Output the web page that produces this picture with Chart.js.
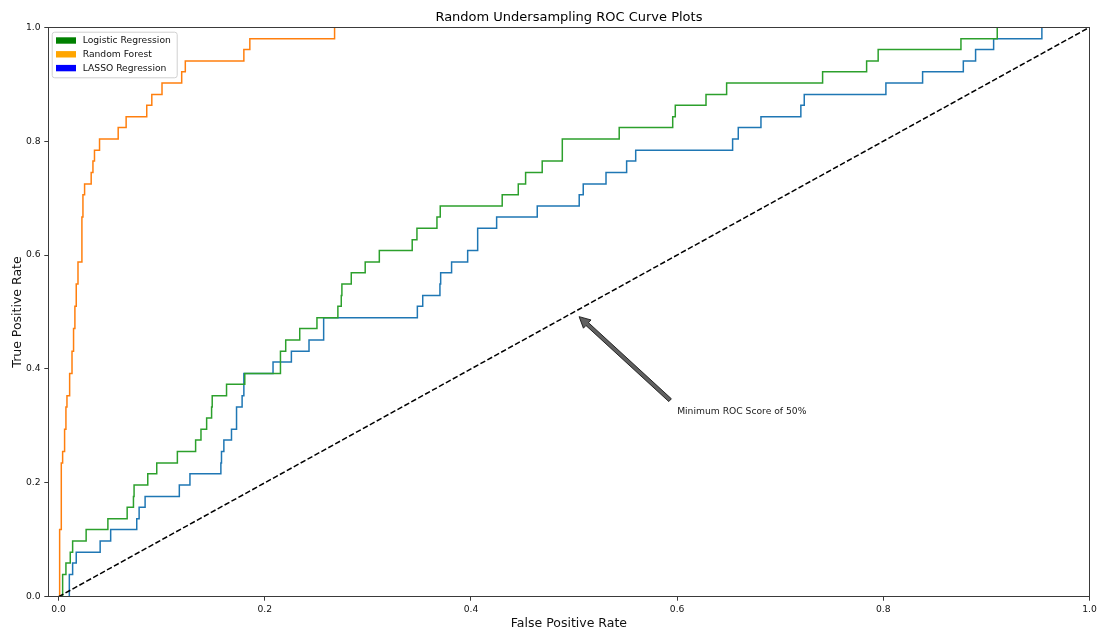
<!DOCTYPE html>
<html>
<head>
<meta charset="utf-8">
<title>Random Undersampling ROC Curve Plots</title>
<script src="https://cdn.jsdelivr.net/npm/chart.js@4.4.0/dist/chart.umd.min.js"></script>
<style>
  html, body { margin: 0; padding: 0; background: #ffffff; }
  #wrap { width: 1097px; height: 630px; position: relative; }
  canvas { display: block; }
</style>
</head>
<body>
<div id="wrap"><canvas id="roc" width="1097" height="630"></canvas></div>
<script>
// ---- text ----
const chartTitle = 'Random Undersampling ROC Curve Plots';
const xAxisLabel = 'False Positive Rate';
const yAxisLabel = 'True Positive Rate';
const seriesNames = ['Logistic Regression', 'Random Forest', 'LASSO Regression'];
const noteText = 'Minimum ROC Score of 50%';

// ---- colours ----
const lineColors = ['#2ca02c', '#ff7f0e', '#1f77b4'];
const legendColors = ['green', 'orange', 'blue'];

// ---- ROC curves (corner points; each step runs across, then up) ----
const logisticFpr = [0, 0.0039, 0.0071, 0.0113, 0.0136, 0.0267, 0.0478, 0.0665, 0.0726, 0.0732,
  0.0865, 0.0952, 0.1152, 0.1329, 0.1381, 0.1436, 0.1484, 0.1490, 0.1629, 0.1806,
  0.2152, 0.2203, 0.2339, 0.2506, 0.2709, 0.2742, 0.2748, 0.2839, 0.2974, 0.3111,
  0.3430, 0.3476, 0.3670, 0.3702, 0.4303, 0.4459, 0.4530, 0.4691, 0.4886, 0.5438,
  0.5957, 0.5982, 0.6280, 0.6480, 0.7411, 0.7838, 0.7950, 0.8753, 0.9105, 1.0];
const logisticTpr = [0, 0.039, 0.059, 0.078, 0.098, 0.118, 0.137, 0.157, 0.176, 0.196,
  0.216, 0.235, 0.255, 0.275, 0.294, 0.314, 0.333, 0.353, 0.373, 0.392,
  0.431, 0.451, 0.471, 0.490, 0.510, 0.529, 0.549, 0.569, 0.588, 0.608,
  0.627, 0.647, 0.667, 0.686, 0.706, 0.725, 0.745, 0.765, 0.804, 0.824,
  0.843, 0.863, 0.882, 0.902, 0.922, 0.941, 0.961, 0.980, 1.0, 1.0];

const forestFpr = [0, 0.0010, 0.0026, 0.0039, 0.0058, 0.0071, 0.0081, 0.0107, 0.0130, 0.0145,
  0.0158, 0.0171, 0.0188, 0.0226, 0.0236, 0.0252, 0.0316, 0.0333, 0.0348, 0.0397,
  0.0578, 0.0655, 0.0855, 0.0904, 0.1003, 0.1194, 0.1229, 0.1797, 0.1855, 0.2677, 1.0];
const forestTpr = [0, 0.118, 0.235, 0.255, 0.294, 0.333, 0.353, 0.392, 0.431, 0.471,
  0.510, 0.549, 0.588, 0.667, 0.706, 0.725, 0.745, 0.765, 0.784, 0.804,
  0.824, 0.843, 0.863, 0.882, 0.902, 0.922, 0.941, 0.961, 0.980, 1.0, 1.0];

const lassoFpr = [0, 0.0104, 0.0136, 0.0171, 0.0403, 0.0505, 0.0758, 0.0781, 0.0839, 0.1171,
  0.1274, 0.1574, 0.1580, 0.1603, 0.1677, 0.1726, 0.1780, 0.1797, 0.2080, 0.2258,
  0.2429, 0.2571, 0.3480, 0.3532, 0.3699, 0.3706, 0.3812, 0.3968, 0.4065, 0.4249,
  0.4643, 0.5050, 0.5089, 0.5310, 0.5510, 0.5598, 0.6538, 0.6593, 0.6813, 0.7200,
  0.7233, 0.8025, 0.8381, 0.8776, 0.8895, 0.9070, 0.9538, 1.0];
const lassoTpr = [0, 0.039, 0.059, 0.078, 0.098, 0.118, 0.137, 0.157, 0.176, 0.196,
  0.216, 0.235, 0.255, 0.275, 0.294, 0.333, 0.353, 0.392, 0.412, 0.431,
  0.451, 0.490, 0.510, 0.529, 0.549, 0.569, 0.588, 0.608, 0.647, 0.667,
  0.686, 0.706, 0.725, 0.745, 0.765, 0.784, 0.804, 0.824, 0.843, 0.863,
  0.882, 0.902, 0.922, 0.941, 0.961, 0.980, 1.0, 1.0];

// chance diagonal
const chanceFpr = [0, 1];
const chanceTpr = [0, 1];

// ---- axes ----
const xRange = [-0.01, 1.0];
const yRange = [0, 1.0];
const tickValues = [0, 0.2, 0.4, 0.6, 0.8, 1.0];
const tickLabels = ['0.0', '0.2', '0.4', '0.6', '0.8', '1.0'];

// ---- annotation ----
const notePoint = [0.5, 0.5];
const noteTextPos = [0.6, 0.32];

const FONT = "'DejaVu Sans', 'Liberation Sans', sans-serif";
const toPoints = (xs, ys) => xs.map((x, i) => ({ x: x, y: ys[i] }));

function curve(label, xs, ys, color, order) {
  return {
    label: label,
    data: toPoints(xs, ys),
    borderColor: color,
    backgroundColor: color,
    borderWidth: 1.5,
    stepped: 'before',
    pointRadius: 0,
    fill: false,
    order: order
  };
}

const axisFrame = {
  id: 'axisFrame',
  afterDatasetsDraw(chart) {
    const { ctx, chartArea: a } = chart;
    ctx.save();
    ctx.strokeStyle = '#3a3a3a';
    ctx.lineWidth = 1;
    const l = Math.round(a.left) + 0.5, r = Math.round(a.right) - 0.5;
    const t = Math.round(a.top) + 0.5, b = Math.round(a.bottom) - 0.5;
    ctx.strokeRect(l, t, r - l, b - t);
    ctx.restore();
  },
  afterDraw(chart) {
    const { ctx, chartArea: a, scales: { x, y } } = chart;
    ctx.save();

    // title
    ctx.fillStyle = '#000';
    ctx.font = '13px ' + FONT;
    ctx.textAlign = 'center';
    ctx.textBaseline = 'alphabetic';
    ctx.fillText(chartTitle, (a.left + a.right) / 2, 20.5);

    // legend
    const bx = a.left + 3.4, by = a.top + 4.4, bw = 125, bh = 45.6;
    ctx.beginPath();
    ctx.roundRect(bx + 0.5, by + 0.5, bw, bh, 2.5);
    ctx.fillStyle = 'rgba(255,255,255,0.8)';
    ctx.fill();
    ctx.strokeStyle = '#d0d0d0';
    ctx.lineWidth = 1;
    ctx.stroke();
    ctx.font = '9.2px ' + FONT;
    ctx.textAlign = 'left';
    ctx.textBaseline = 'middle';
    seriesNames.forEach((name, i) => {
      const cy = by + 8.8 + i * 13.8;
      ctx.fillStyle = legendColors[i];
      ctx.fillRect(bx + 4.3, cy - 3.2, 20, 6.4);
      ctx.fillStyle = '#111';
      ctx.fillText(name, bx + 31, cy + 0.5);
    });

    // annotation: text and arrow pointing at the chance line
    const px = x.getPixelForValue(notePoint[0]);
    const py = y.getPixelForValue(notePoint[1]);
    const tx = x.getPixelForValue(noteTextPos[0]);
    const ty = y.getPixelForValue(noteTextPos[1]);
    ctx.font = '9.2px ' + FONT;
    ctx.textBaseline = 'alphabetic';
    ctx.fillStyle = '#1a1a1a';
    ctx.fillText(noteText, tx, ty);

    const cx = tx - 2, cyy = ty - 9.7;
    const dx = px - cx, dy = py - cyy;
    const tail = [cx + 0.05 * dx, cyy + 0.05 * dy];
    const tip = [px - 0.05 * dx, py - 0.05 * dy];
    const len = Math.hypot(tip[0] - tail[0], tip[1] - tail[1]);
    const ux = (tip[0] - tail[0]) / len, uy = (tip[1] - tail[1]) / len;
    const nx = -uy, ny = ux;
    const w = 1.9, hw = 5.6, hl = 11;
    const base = [tip[0] - ux * hl, tip[1] - uy * hl];
    ctx.beginPath();
    ctx.moveTo(tail[0] + nx * w, tail[1] + ny * w);
    ctx.lineTo(base[0] + nx * w, base[1] + ny * w);
    ctx.lineTo(base[0] + nx * hw, base[1] + ny * hw);
    ctx.lineTo(tip[0], tip[1]);
    ctx.lineTo(base[0] - nx * hw, base[1] - ny * hw);
    ctx.lineTo(base[0] - nx * w, base[1] - ny * w);
    ctx.lineTo(tail[0] - nx * w, tail[1] - ny * w);
    ctx.closePath();
    ctx.fillStyle = '#606060';
    ctx.fill();
    ctx.strokeStyle = '#151515';
    ctx.lineWidth = 0.9;
    ctx.lineJoin = 'miter';
    ctx.stroke();

    ctx.restore();
  }
};

const tickFont = { family: FONT, size: 9.2 };
const titleFont = { family: FONT, size: 12.5, lineHeight: 1 };

new Chart(document.getElementById('roc').getContext('2d'), {
  type: 'line',
  data: {
    datasets: [
      {
        label: 'chance',
        data: toPoints(chanceFpr, chanceTpr),
        borderColor: '#000',
        borderWidth: 1.5,
        borderDash: [5.5, 2.4],
        pointRadius: 0,
        fill: false,
        order: 0
      },
      curve(seriesNames[0], logisticFpr, logisticTpr, lineColors[0], 1),
      curve(seriesNames[1], forestFpr, forestTpr, lineColors[1], 2),
      curve(seriesNames[2], lassoFpr, lassoTpr, lineColors[2], 3)
    ]
  },
  options: {
    responsive: false,
    animation: false,
    devicePixelRatio: 1,
    layout: { padding: { top: 27.3, right: 7.5, bottom: 0, left: 0 } },
    plugins: {
      legend: { display: false },
      tooltip: { enabled: false },
      title: { display: false }
    },
    scales: {
      x: {
        type: 'linear',
        min: xRange[0],
        max: xRange[1],
        afterBuildTicks: s => { s.ticks = tickValues.map(v => ({ value: v })); },
        afterFit: s => { s.height = 33.3; s.paddingLeft = 0; s.paddingRight = 0; },
        ticks: {
          callback: (v, i) => tickLabels[i],
          font: tickFont,
          color: '#111',
          padding: 3,
          maxRotation: 0,
          autoSkip: false
        },
        grid: { display: true, drawOnChartArea: false, drawTicks: true, tickLength: 4, color: '#3a3a3a', lineWidth: 1 },
        border: { display: false },
        title: { display: true, text: xAxisLabel, font: titleFont, color: '#111', padding: { top: 0, bottom: 0.4 } }
      },
      y: {
        type: 'linear',
        min: yRange[0],
        max: yRange[1],
        afterBuildTicks: s => { s.ticks = tickValues.map(v => ({ value: v })); },
        afterFit: s => { s.width = 48.3; s.paddingTop = 0; s.paddingBottom = 0; },
        ticks: {
          callback: (v, i) => tickLabels[i],
          font: tickFont,
          color: '#111',
          padding: 3.7,
          autoSkip: false
        },
        grid: { display: true, drawOnChartArea: false, drawTicks: true, tickLength: 4, color: '#3a3a3a', lineWidth: 1 },
        border: { display: false },
        title: { display: true, text: yAxisLabel, font: titleFont, color: '#111', padding: { top: 11.7, bottom: 0 } }
      }
    }
  },
  plugins: [axisFrame]
});
</script>
</body>
</html>
